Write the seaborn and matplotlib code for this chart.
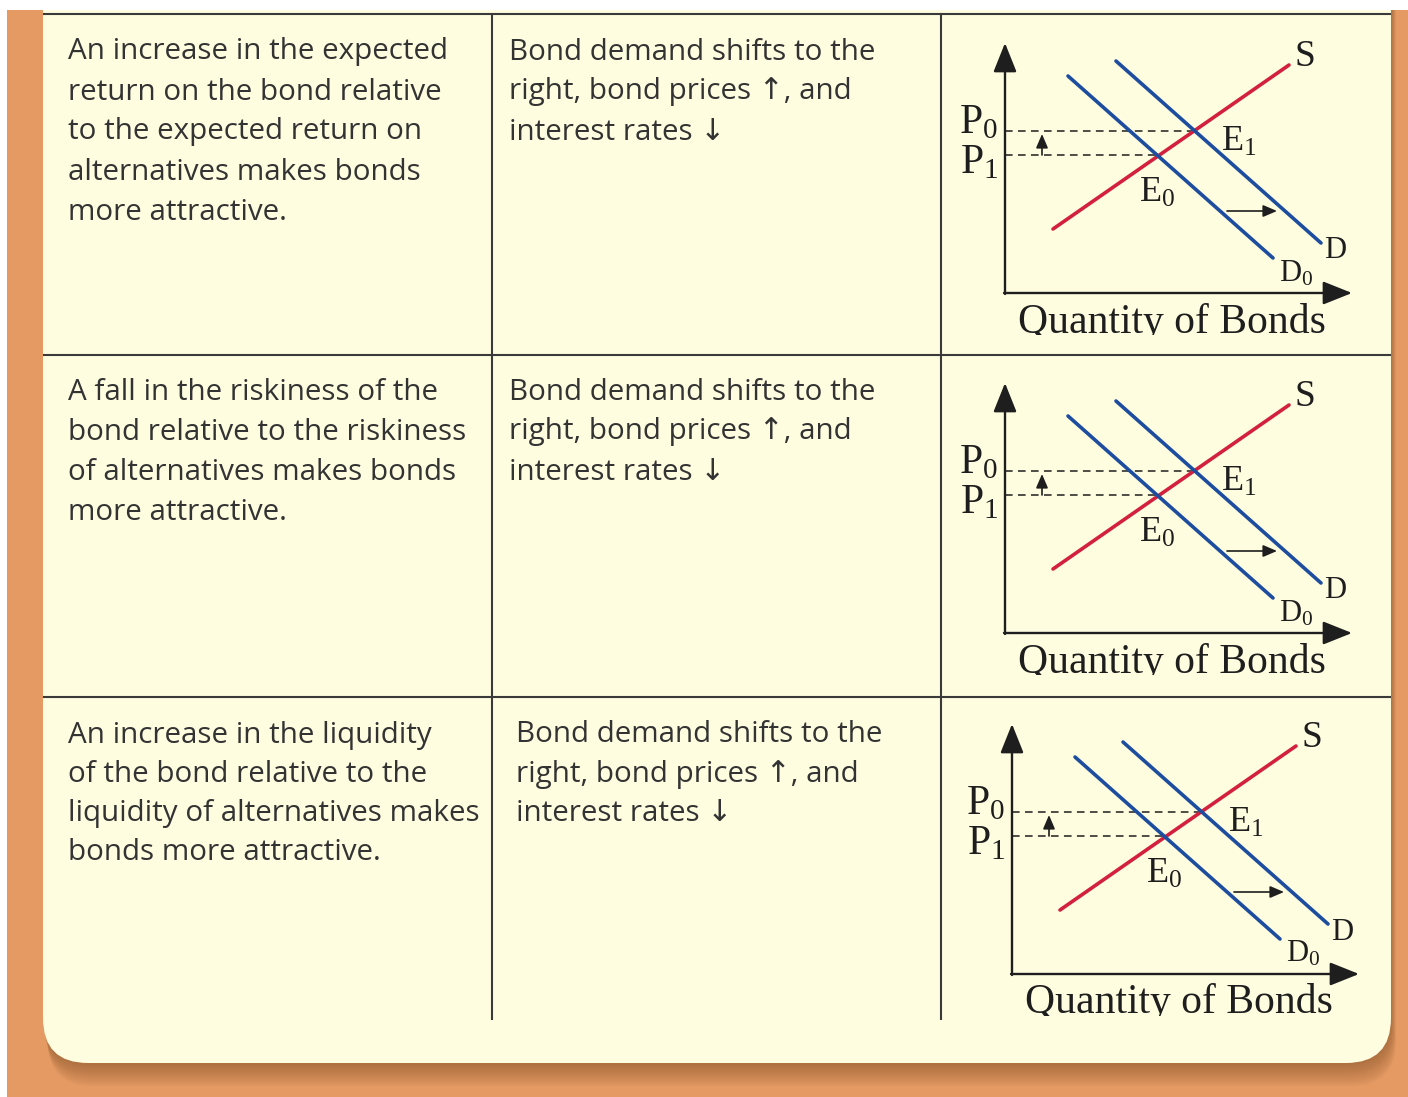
import matplotlib
matplotlib.use("Agg")
import matplotlib.pyplot as plt
from matplotlib.patches import FancyBboxPatch, Rectangle
import seaborn as sns

# ---------- Data ----------
FACTORS = [
    ["An increase in the expected", "return on the bond relative",
     "to the expected return on", "alternatives makes bonds", "more attractive."],
    ["A fall in the riskiness of the", "bond relative to the riskiness",
     "of alternatives makes bonds", "more attractive."],
    ["An increase in the liquidity", "of the bond relative to the",
     "liquidity of alternatives makes", "bonds more attractive."],
]
EFFECT = ["Bond demand shifts to the", "right, bond prices \u2191, and", "interest rates \u2193"]

SUPPLY_Q = [48, 284]
SUPPLY_P = [64, 228]
DEMAND0_Q = [63, 268]
DEMAND0_P = [217, 35]
DEMAND1_Q = [111, 316]
DEMAND1_P = [232, 50]
EQ_Q = [153, 190]   # E0, E1
EQ_P = [138, 162]   # P1, P0
SHIFT_Q = [222, 272]
SHIFT_P = 82
AXIS_TIP_Q = 347
AXIS_TIP_P = 250

# ---------- Layout / style ----------
W, H = 1408, 1097
ORANGE = "#e59a63"
SHADOW = "#7a4a22"
PANEL = "#fffde0"
RULE = "#3a3a3a"
TEXT = "#333333"
INK = "#1e1e1e"
RED = "#d3203f"
BLUE = "#1d4d9f"

ROW_Y = [52, 392, 735]
ROW_PITCH = [40, 40, 39.3]
COL1_X = [68, 68, 68]
COL2_X = [509, 509, 516]
ORIGINS = [(1005, 293), (1005, 633), (1012, 974)]
BODY_SIZE = 21.3

sns.set_style("white")
plt.rcParams["font.family"] = ["Open Sans", "DejaVu Sans"]
plt.rcParams["mathtext.fontset"] = "custom"
plt.rcParams["mathtext.rm"] = "Liberation Serif"
plt.rcParams["mathtext.it"] = "Liberation Serif:italic"
SERIF = ["Liberation Serif", "DejaVu Serif"]

fig = plt.figure(figsize=(W / 100, H / 100), dpi=100)
fig.patch.set_facecolor("white")

base = fig.add_axes([0, 0, 1, 1])
base.set_xlim(0, W)
base.set_ylim(H, 0)
base.axis("off")

base.add_patch(Rectangle((7, 10), W - 7, H - 10, color=ORANGE, lw=0))
# soft shadow under the panel
for i in range(1, 11):
    base.add_patch(FancyBboxPatch((43 + i * 0.5, -60 + i * 2.3), 1348, 1123,
                                  boxstyle="round,pad=0,rounding_size=45",
                                  color=SHADOW, alpha=0.06, lw=0))
base.add_patch(FancyBboxPatch((43, -60), 1348, 1123,
                              boxstyle="round,pad=0,rounding_size=45",
                              color=PANEL, lw=0))
base.add_patch(Rectangle((0, 0), W, 10, color="white", lw=0, zorder=5))

for y in [14, 355, 697]:
    base.plot([43, 1391], [y, y], color=RULE, lw=1.5, solid_capstyle="butt")
for x in [492, 941]:
    base.plot([x, x], [14, 1020], color=RULE, lw=1.5, solid_capstyle="butt")

for r, lines in enumerate(FACTORS):
    for i, line in enumerate(lines):
        base.text(COL1_X[r], ROW_Y[r] + i * ROW_PITCH[r], line, va="center", ha="left",
                  fontsize=BODY_SIZE, color=TEXT)
    for i, line in enumerate(EFFECT):
        base.text(COL2_X[r], ROW_Y[r] + i * ROW_PITCH[r], line, va="center", ha="left",
                  fontsize=BODY_SIZE, color=TEXT)


def draw_diagram(ox, oy):
    ax = fig.add_axes([(ox - 60) / W, 1 - (oy + 42) / H, 445 / W, 317 / H])
    ax.set_xlim(-60, 385)
    ax.set_ylim(-42, 275)
    ax.axis("off")
    ax.patch.set_alpha(0)

    big = dict(arrowstyle="-|>,head_length=0.9,head_width=0.36", color=INK, lw=1.7,
               mutation_scale=20, shrinkA=0, shrinkB=0)
    ax.annotate("", xy=(0, AXIS_TIP_P), xytext=(0, -1), arrowprops=big)
    ax.annotate("", xy=(AXIS_TIP_Q, 0), xytext=(-1, 0), arrowprops=big)

    ax.plot([0, EQ_Q[1]], [EQ_P[1], EQ_P[1]], color=INK, lw=1.1, dashes=(5, 3.5))
    ax.plot([0, EQ_Q[0]], [EQ_P[0], EQ_P[0]], color=INK, lw=1.1, dashes=(5, 3.5))

    sns.lineplot(x=SUPPLY_Q, y=SUPPLY_P, ax=ax, color=RED, lw=2.6)
    sns.lineplot(x=DEMAND0_Q, y=DEMAND0_P, ax=ax, color=BLUE, lw=2.6)
    sns.lineplot(x=DEMAND1_Q, y=DEMAND1_P, ax=ax, color=BLUE, lw=2.6)

    small = dict(arrowstyle="-|>,head_length=0.7,head_width=0.3", color=INK, lw=1.2,
                 mutation_scale=12, shrinkA=0, shrinkB=0)
    ax.annotate("", xy=(37, EQ_P[1] - 3), xytext=(37, EQ_P[0]), arrowprops=small)
    ax.annotate("", xy=(SHIFT_Q[1], SHIFT_P), xytext=(SHIFT_Q[0], SHIFT_P), arrowprops=small)

    ax.text(300, 236, "S", fontsize=27, family=SERIF, color=INK, ha="center", va="center")
    ax.text(-7, EQ_P[1] + 9, r"$\mathrm{P}_0$", fontsize=30, color=INK, ha="right", va="center")
    ax.text(-7, EQ_P[0] - 7, r"$\mathrm{P}_1$", fontsize=30, color=INK, ha="right", va="center")
    ax.text(216, 151, r"$\mathrm{E}_1$", fontsize=26, color=INK, ha="left", va="center")
    ax.text(134, 100, r"$\mathrm{E}_0$", fontsize=26, color=INK, ha="left", va="center")
    ax.text(319, 42, "D", fontsize=22, family=SERIF, color=INK, ha="left", va="center")
    ax.text(274, 20, r"$\mathrm{D}_0$", fontsize=22, color=INK, ha="left", va="center")
    ax.text(167, -29, "Quantity of Bonds", fontsize=30, family=SERIF, color=INK,
            ha="center", va="center", clip_on=True)


for ox, oy in ORIGINS:
    draw_diagram(ox, oy)

fig.savefig("out.png", dpi=100, facecolor=fig.get_facecolor())
